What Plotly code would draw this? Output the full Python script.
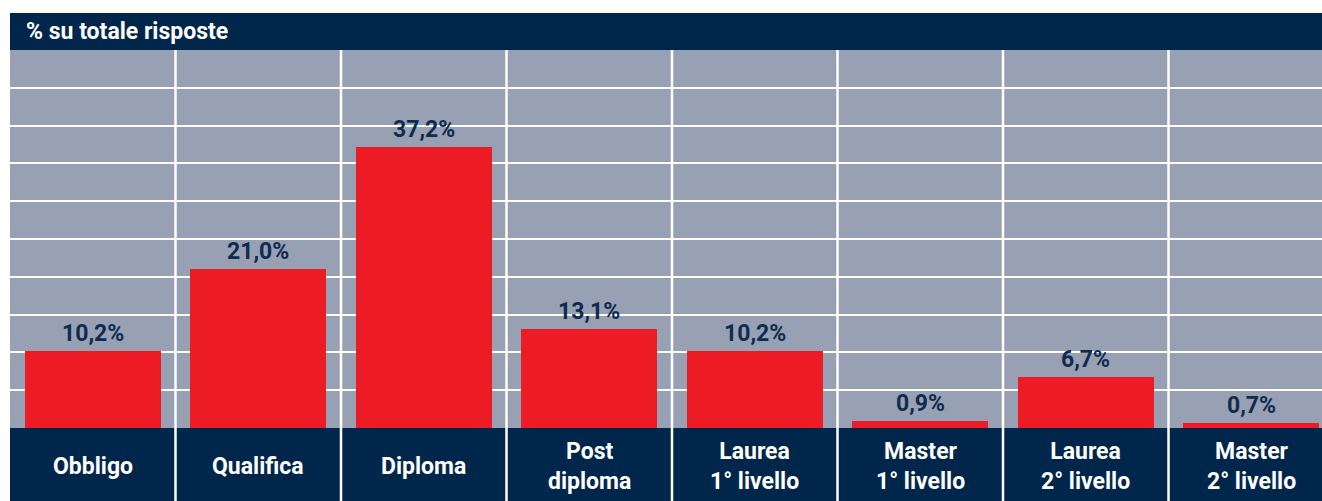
import plotly.graph_objects as go

categories = ["Obbligo", "Qualifica", "Diploma", "Post<br>diploma", "Laurea<br>1° livello",
              "Master<br>1° livello", "Laurea<br>2° livello", "Master<br>2° livello"]
values = [10.2, 21.0, 37.2, 13.1, 10.2, 0.9, 6.7, 0.7]
title_text = "% su totale risposte"

NAVY = "#00264B"
GRAY = "#98A0B4"
RED = "#ED1C24"
LABEL = "#0E2C50"
FONT = "Roboto"

W, H = 1322, 501
ml, mr, mt, mb = 10, 0, 50, 73
plot_h = H - mt - mb
plot_w = W - ml - mr
cat_px = 165.5
xs = list(range(len(categories)))

fig = go.Figure()
fig.add_trace(go.Bar(x=xs, y=values, marker=dict(color=RED, line=dict(width=0)),
                     width=136 / cat_px, hoverinfo="skip"))

shapes = []
# header band
shapes.append(dict(type="rect", xref="paper", yref="paper", x0=0, x1=1,
                   y0=1, y1=1 + 37 / plot_h, fillcolor=NAVY, line=dict(width=0), layer="above"))
# bottom band
shapes.append(dict(type="rect", xref="paper", yref="paper", x0=0, x1=1,
                   y0=-mb / plot_h, y1=0, fillcolor=NAVY, line=dict(width=0), layer="above"))
# vertical dividers
for i in range(len(categories) - 1):
    shapes.append(dict(type="line", xref="x", yref="paper", x0=i + 0.5, x1=i + 0.5,
                       y0=-mb / plot_h, y1=1, line=dict(color="white", width=2.5), layer="above"))

annotations = []
for x, v in zip(xs, values):
    annotations.append(dict(x=x, y=v, xref="x", yref="y", text=f"{v:.1f}%".replace(".", ","),
                            showarrow=False, yanchor="bottom", yshift=2,
                            font=dict(family=FONT, size=23, color=LABEL, weight="bold")))
for x, c in zip(xs, categories):
    annotations.append(dict(x=x, y=-38 / plot_h, xref="x", yref="paper", text=c,
                            showarrow=False, yanchor="middle", align="center",
                            font=dict(family=FONT, size=23, color="white", weight="bold")))
annotations.append(dict(x=14 / plot_w, y=1 + 18.5 / plot_h, xref="paper", yref="paper",
                        text=title_text, showarrow=False, xanchor="left", yanchor="middle",
                        font=dict(family=FONT, size=23, color="white", weight="bold")))

fig.update_layout(
    width=W, height=H,
    margin=dict(l=ml, r=mr, t=mt, b=mb, pad=0),
    paper_bgcolor="white", plot_bgcolor=GRAY,
    showlegend=False,
    shapes=shapes, annotations=annotations,
    xaxis=dict(range=[-0.5, -0.5 + plot_w / cat_px], showgrid=False, zeroline=False,
               showticklabels=False, ticks="", fixedrange=True),
    yaxis=dict(range=[0, 50], dtick=5, showgrid=True, gridcolor="white", gridwidth=2,
               zeroline=False, showticklabels=False, ticks="", fixedrange=True),
    bargap=0,
)

fig.write_html("out.html", config={"displayModeBar": False},
               post_script="document.body.style.margin='0';document.body.style.overflow='hidden';")
